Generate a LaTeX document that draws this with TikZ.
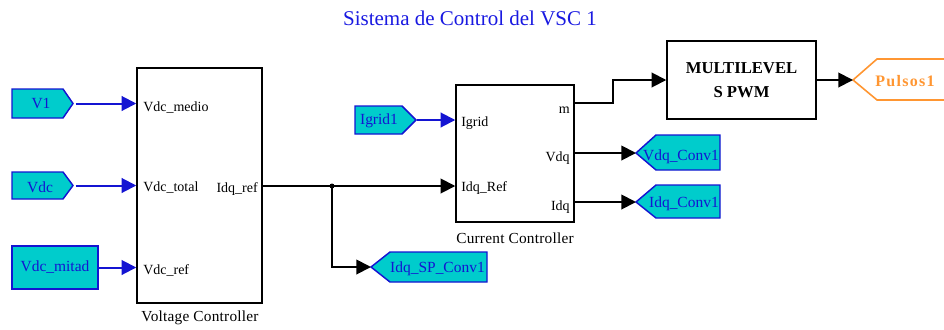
\documentclass[tikz,border=0pt]{standalone}
\usepackage{fontspec}
\setmainfont{Liberation Serif}
\newfontfamily\spacedserif[LetterSpace=8]{Liberation Serif}
\newfontfamily\capserif[LetterSpace=1.5]{Liberation Serif}
\usetikzlibrary{arrows.meta}
\definecolor{tagfill}{RGB}{0,204,204}
\definecolor{tagblue}{RGB}{20,20,210}
\definecolor{titleblue}{RGB}{25,25,225}
\definecolor{pulsorange}{RGB}{255,150,50}
\begin{document}
\begin{tikzpicture}[x=0.75pt,y=-0.75pt,
 blk/.style={draw=black, line width=1.1pt, fill=white, inner sep=0pt, rectangle},
 tagshape/.style={draw=tagblue, fill=tagfill, line width=1.1pt, line join=miter},
 tagtext/.style={text=tagblue, font=\fontsize{11.6}{12}\selectfont, inner sep=0pt},
 port/.style={font=\fontsize{10.5}{11}\selectfont, inner sep=0pt},
 caption/.style={font=\capserif\fontsize{11.5}{12}\selectfont, inner sep=0pt},
 bwire/.style={draw=tagblue, line width=1.5pt, -{Triangle[length=11pt,width=11pt]}},
 kwire/.style={draw=black, line width=1.4pt, -{Triangle[length=11pt,width=11pt]}},
]
\useasboundingbox (0,0) rectangle (944,329);

% title
\node[text=titleblue, font=\fontsize{15.75}{17}\selectfont, inner sep=0pt] (title) at (470,18) {Sistema de Control del VSC 1};

% blocks
\node[blk, minimum width=93.75pt, minimum height=176.25pt] (vc) at (199.5,185.5) {};
\node[blk, minimum width=88.5pt, minimum height=102.75pt] (cc) at (515,153.5) {};
\node[blk, minimum width=111.75pt, minimum height=58.5pt, align=center,
      font=\fontsize{12.5}{18}\bfseries\selectfont] (ms) at (741.5,80) {MULTILEVEL\\S PWM};

% port labels
\node[port, anchor=west] (p1) at (143,108) {Vdc\_medio};
\node[port, anchor=west] (p2) at (143,188) {Vdc\_total};
\node[port, anchor=west] (p3) at (143,270) {Vdc\_ref};
\node[port, anchor=east] (p4) at (258,189) {Idq\_ref};
\node[port, anchor=west] (p5) at (461,123) {Igrid};
\node[port, anchor=west] (p6) at (461,188) {Idq\_Ref};
\node[port, anchor=east] (p7) at (570,110) {m};
\node[port, anchor=east] (p8) at (570,158) {Vdq};
\node[port, anchor=east] (p9) at (570,207) {Idq};

% captions
\node[caption] (vccap) at (200,318) {Voltage Controller};
\node[caption] (cccap) at (515,238) {Current Controller};

% input tags
\draw[tagshape] (12,89) -- (63,89) -- (73,103.5) -- (63,118) -- (12,118) -- cycle;
\node[tagtext] (v1) at (41,104) {V1};
\coordinate (v1tip) at (73,103.5);
\draw[tagshape] (12,172) -- (63,172) -- (73,185.5) -- (63,199) -- (12,199) -- cycle;
\node[tagtext] (vdc) at (40,187) {Vdc};
\coordinate (vdctip) at (73,185.5);
\node[tagshape, tagtext, draw=tagblue, minimum width=64.5pt, minimum height=32.25pt] (mitad) at (55,267.5) {Vdc\_mitad};
\draw[tagshape] (355,106) -- (402,106) -- (416,120) -- (402,134) -- (355,134) -- cycle;
\node[tagtext] (igrid) at (379,121) {Igrid1};
\coordinate (igtip) at (416,120);

% output tags
\draw[tagshape] (371,267) -- (390,252) -- (487,252) -- (487,282) -- (390,282) -- cycle;
\node[tagtext, anchor=east] (idqsp) at (485,269) {Idq\_SP\_Conv1};
\coordinate (sptip) at (371,267);
\draw[tagshape] (636,153) -- (656,135) -- (720,135) -- (720,170) -- (656,170) -- cycle;
\node[tagtext, anchor=east] (vdqc) at (719,157) {Vdq\_Conv1};
\coordinate (vdqtip) at (636,153);
\draw[tagshape] (636,202) -- (656,185) -- (720,185) -- (720,218) -- (656,218) -- cycle;
\node[tagtext, anchor=east] (idqc) at (719,204) {Idq\_Conv1};
\coordinate (idqtip) at (636,202);
\draw[draw=pulsorange, line width=1.2pt, line join=miter] (946,59) -- (877,59) -- (853,80) -- (877,100) -- (946,100);
\node[text=pulsorange, font=\spacedserif\bfseries\fontsize{12}{13}\selectfont, inner sep=0pt] (puls) at (905,81) {Pulsos1};
\coordinate (ptip) at (853,80);

% connectors
\draw[bwire, shorten <=2pt] (v1tip) -- (v1tip -| vc.west);
\draw[bwire, shorten <=2pt] (vdctip) -- (vdctip -| vc.west);
\draw[bwire] (mitad.east) -- (mitad.east -| vc.west);
\draw[bwire, shorten <=1pt] (igtip) -- (igtip -| cc.west);

\coordinate (vcout) at (vc.east |- 0,186);
\coordinate (jn) at (332,186);
\draw[kwire] (vcout) -- (vcout -| cc.west);
\fill (jn) circle (2.5);
\draw[kwire] (jn) |- (sptip);

\coordinate (mout) at (cc.east |- 0,103);
\draw[kwire] (mout) -- ++(38,0) |- (ms.west);
\draw[kwire] (vdqtip -| cc.east) -- (vdqtip);
\draw[kwire] (idqtip -| cc.east) -- (idqtip);
\draw[kwire] (ms.east) -- (ptip);
\end{tikzpicture}
\end{document}
